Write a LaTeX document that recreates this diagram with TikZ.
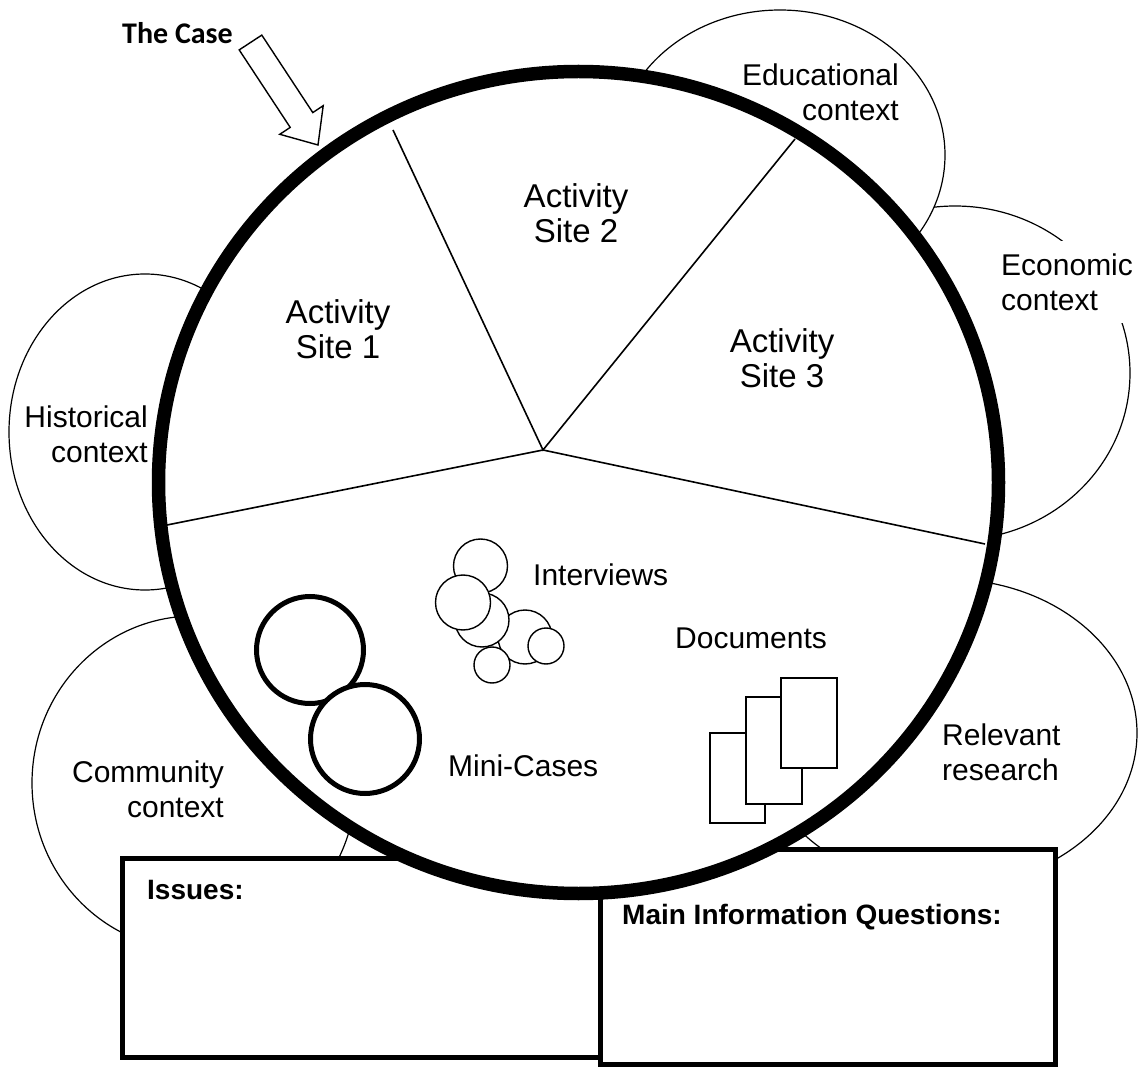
\documentclass[tikz,border=0pt]{standalone}
\usepackage{fontspec}
\setmainfont{Liberation Sans}
\newfontfamily\calibfont{Carlito}
\usetikzlibrary{calc}
\begin{document}
\begin{tikzpicture}[x=1pt,y=-1pt,
  cloudline/.style={draw, fill=white, line width=1.2pt},
  ctxlabel/.style={font=\fontsize{30}{35}\selectfont, inner sep=0pt},
  sitelabel/.style={font=\fontsize{33}{35}\selectfont, align=center, inner sep=0pt},
  itemlabel/.style={font=\fontsize{30}{35}\selectfont, inner sep=0pt, anchor=west},
  boxlabel/.style={font=\bfseries\fontsize{28}{32}\selectfont, inner sep=0pt, anchor=west},
  framebox/.style={draw, fill=white, line width=5pt, inner sep=0pt, outer sep=0pt, anchor=north west},
  sectorline/.style={line width=1.6pt},
  ivcircle/.style={circle, draw, fill=white, line width=1.4pt, inner sep=0pt, outer sep=0pt},
  minicase/.style={circle, draw, fill=white, line width=5pt, inner sep=0pt, outer sep=0pt},
  docsheet/.style={draw, fill=white, line width=1.4pt, inner sep=0pt, outer sep=0pt, anchor=north west},
  casearrow/.style={draw, fill=white, line width=1.4pt, line join=miter},
]
\useasboundingbox (0,0) rectangle (1144,1067);

% context clouds
\draw[cloudline] (955,373) ellipse [x radius=175pt, y radius=167pt];
\draw[cloudline] (780,155) ellipse [x radius=165pt, y radius=145pt];
\draw[cloudline] (145,432) ellipse [x radius=136pt, y radius=158pt];
\draw[cloudline] (194,783) ellipse [x radius=162pt, y radius=167pt];
\draw[cloudline] (947,733) ellipse [x radius=190pt, y radius=154pt];

\node[ctxlabel, align=right, anchor=east] (edu) at (899,92) {Educational\\context};
\node[ctxlabel, align=left, anchor=west, fill=white, inner sep=12pt] (eco) at (989,282) {Economic\\context};
\node[ctxlabel, align=right, anchor=east] (his) at (148,434) {Historical\\context};
\node[ctxlabel, align=right, anchor=east] (com) at (224,789) {Community\\context};
\node[ctxlabel, align=left, anchor=west] (rel) at (942,752) {Relevant\\research};

% bottom frames
\node[framebox, minimum width=478pt, minimum height=199pt] (issues) at (122,858) {};
\node[framebox, minimum width=455pt, minimum height=215pt] (mainq) at (600,849) {};

% the case
\coordinate (casecentre) at (578.5,482.5);
\draw[line width=13.5pt, fill=white] (casecentre) ellipse [x radius=420pt, y radius=411pt];

% sectors
\coordinate (hub) at (543,450);
\coordinate (rimA) at (393,130);
\coordinate (rimB) at (795,139);
\coordinate (rimC) at (985,544);
\coordinate (rimD) at (167,525);
\draw[sectorline] (rimA) -- (hub) -- (rimB);
\draw[sectorline] (rimD) -- (hub) -- (rimC);

\node[sitelabel] (site1) at (338,329) {Activity\\Site 1};
\node[sitelabel] (site2) at (576,213) {Activity\\Site 2};
\node[sitelabel] (site3) at (782,358) {Activity\\Site 3};

% The Case arrow
\node[font=\calibfont\bfseries\fontsize{30}{34}\selectfont, inner sep=0pt, anchor=west] (thecase) at (122,33) {The Case};
\draw[casearrow] (239.2,49.9) -- (261.8,35.1) -- (312.8,112.6) -- (323.2,105.7) -- (318,145) -- (279.8,134.3) -- (290.2,127.4) -- cycle;

% interviews
\node[ivcircle, minimum size=54pt] (iv4) at (525,637) {};
\node[ivcircle, minimum size=54pt] (iv3) at (482,620) {};
\node[ivcircle, minimum size=54pt] (iv1) at (480.5,566) {};
\node[ivcircle, minimum size=55pt] (iv2) at (463,602.5) {};
\node[ivcircle, minimum size=36pt] (iv6) at (492,665) {};
\node[ivcircle, minimum size=36pt] (iv5) at (546,646) {};
\node[itemlabel] (intv) at (533,575) {Interviews};

% mini-cases
\node[minicase, minimum size=107pt] (mc1) at (310,650) {};
\node[minicase, minimum size=109pt] (mc2) at (365,739) {};
\node[itemlabel] (mini) at (448,766) {Mini-Cases};

% documents
\node[docsheet, minimum width=55pt, minimum height=90pt] (doc1) at (710,733) {};
\node[docsheet, minimum width=56pt, minimum height=107pt] (doc2) at (746,697) {};
\node[docsheet, minimum width=56pt, minimum height=90pt] (doc3) at (781,678) {};
\node[itemlabel] (docs) at (675,638) {Documents};

% frame labels
\node[boxlabel] (issuelbl) at (147,890) {Issues:};
\node[boxlabel] (mainlbl) at (622,917) {Main Information Questions:};
\end{tikzpicture}
\end{document}
